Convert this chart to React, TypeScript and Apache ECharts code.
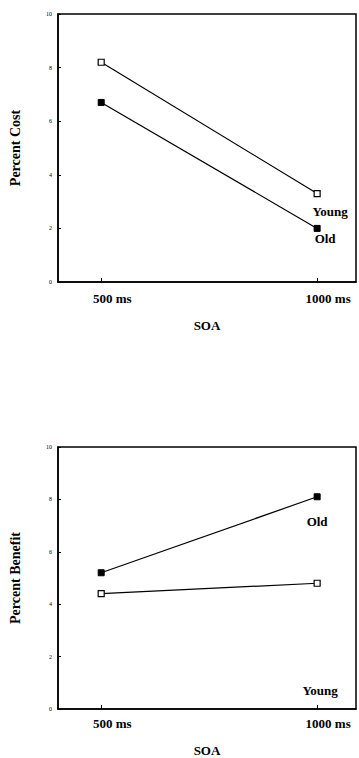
import React, { useEffect, useRef } from "react";
import * as echarts from "echarts";

const soaValues = [500, 1000];
const soaLabels = ["500 ms", "1000 ms"];
const yTicks = [0, 2, 4, 6, 8, 10];

const costYoung = [8.2, 3.3];
const costOld = [6.7, 2.0];
const benefitOld = [5.2, 8.1];
const benefitYoung = [4.4, 4.8];

const FONT = "'Liberation Serif', 'Times New Roman', serif";

function pts(vals: number[], lastLabel: string, offset: number[]) {
  return vals.map((v, i) => {
    const item: any = { value: [soaValues[i], v] };
    if (i === vals.length - 1) {
      item.label = {
        show: true,
        formatter: lastLabel,
        position: "bottom",
        offset,
        color: "#000",
        fontFamily: FONT,
        fontWeight: "bold",
        fontSize: 13,
      };
    }
    return item;
  });
}

export default function App() {
  const ref = useRef<HTMLDivElement>(null);
  useEffect(() => {
    document.body.style.margin = "0";
    const chart = echarts.init(ref.current!, null, { renderer: "svg" });
    const xAxisBase = (gridIndex: number, gap: number, margin: number) => ({
      type: "value",
      gridIndex,
      min: 400,
      max: 1090,
      name: "SOA",
      nameLocation: "middle",
      nameGap: gap,
      nameTextStyle: { fontFamily: FONT, fontWeight: "bold", fontSize: 13, color: "#000" },
      splitLine: { show: false },
      axisLine: { show: true, lineStyle: { color: "#000", width: 1.5 } },
      axisTick: { show: true, inside: true, length: 4, customValues: soaValues, lineStyle: { color: "#000" } },
      axisLabel: {
        customValues: soaValues,
        formatter: (v: number) => soaLabels[soaValues.indexOf(v)] ?? "",
        margin,
        padding: [0, 0, 0, 22],
        fontFamily: FONT,
        fontWeight: "bold",
        fontSize: 13,
        color: "#000",
      },
    });
    const yAxisBase = (gridIndex: number, name: string) => ({
      type: "value",
      gridIndex,
      min: yTicks[0],
      max: yTicks[yTicks.length - 1],
      interval: 2,
      name,
      nameLocation: "middle",
      nameGap: 36,
      nameTextStyle: { fontFamily: FONT, fontWeight: "bold", fontSize: 14, color: "#000" },
      splitLine: { show: false },
      axisLine: { show: true, lineStyle: { color: "#000", width: 1.5 } },
      axisTick: { show: true, inside: true, length: 3, lineStyle: { color: "#000" } },
      axisLabel: { margin: 6, fontFamily: FONT, fontSize: 6, color: "#000" },
    });
    const lineStyle = { color: "#000", width: 1.2 };
    const openItem = { color: "#fff", borderColor: "#000", borderWidth: 1.2 };
    const filledItem = { color: "#000", borderColor: "#000", borderWidth: 1 };
    chart.setOption({
      animation: false,
      backgroundColor: "#fff",
      grid: [
        { left: 58, top: 14, width: 298, height: 268, show: true, borderColor: "#000", borderWidth: 1.5 },
        { left: 58, top: 447, width: 298, height: 270, show: true, borderColor: "#000", borderWidth: 1.5 },
      ],
      xAxis: [xAxisBase(0, 37, 10), xAxisBase(1, 35, 8)],
      yAxis: [yAxisBase(0, "Percent Cost"), yAxisBase(1, "Percent Benefit")],
      series: [
        {
          type: "line", xAxisIndex: 0, yAxisIndex: 0, name: "Young",
          data: pts(costYoung, "Young", [13, 3]),
          symbol: "rect", symbolSize: 6, lineStyle, itemStyle: openItem,
        },
        {
          type: "line", xAxisIndex: 0, yAxisIndex: 0, name: "Old",
          data: pts(costOld, "Old", [8, -5]),
          symbol: "rect", symbolSize: 6, lineStyle, itemStyle: filledItem,
        },
        {
          type: "line", xAxisIndex: 1, yAxisIndex: 1, name: "Old",
          data: pts(benefitOld, "Old", [0, 10]),
          symbol: "rect", symbolSize: 6, lineStyle, itemStyle: filledItem,
        },
        {
          type: "line", xAxisIndex: 1, yAxisIndex: 1, name: "Young",
          data: pts(benefitYoung, "Young", [3, 92]),
          symbol: "rect", symbolSize: 6, lineStyle, itemStyle: openItem,
        },
      ],
    });
    return () => chart.dispose();
  }, []);
  return <div ref={ref} style={{ width: 359, height: 758 }} />;
}
